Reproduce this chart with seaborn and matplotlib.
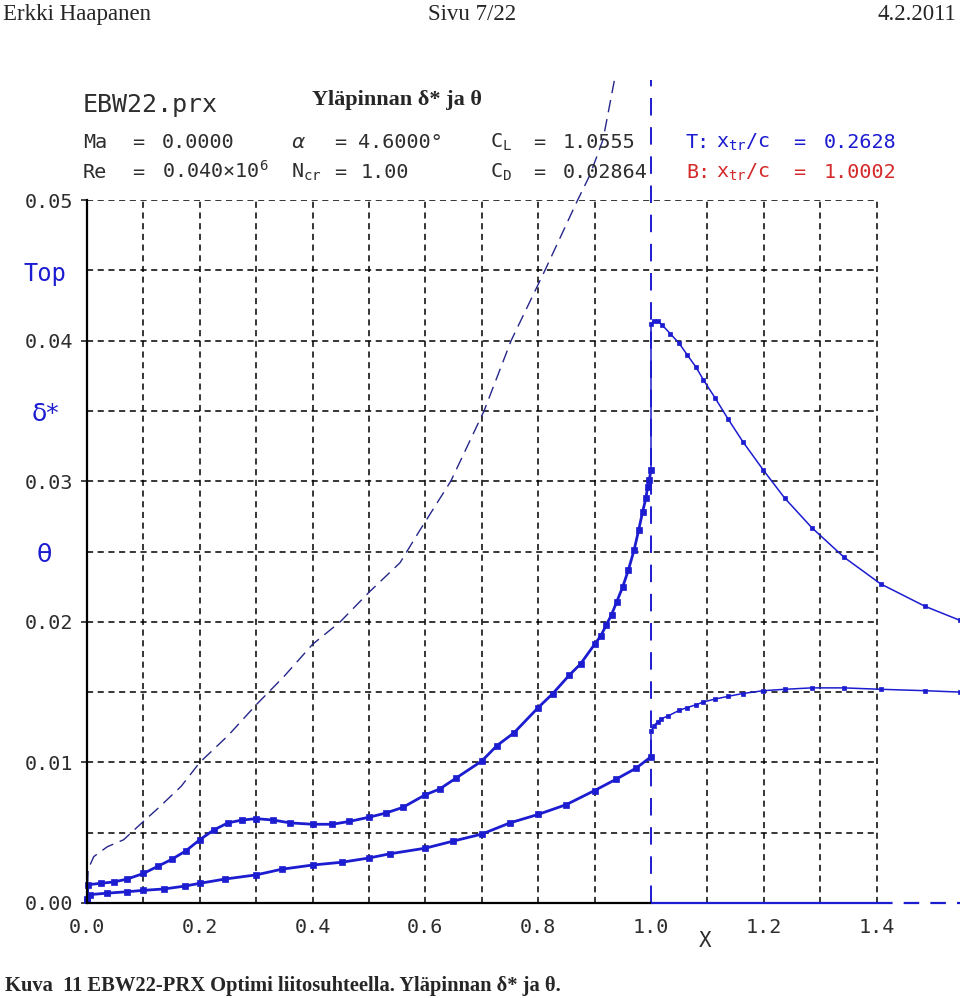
# Top surface boundary layer: delta* and theta (XFOIL style plot)

import matplotlib
matplotlib.use("Agg")
import matplotlib.pyplot as plt
import seaborn as sns
import pandas as pd


# upper surface displacement thickness delta*
dstar_x = [0.000, 0.002, 0.024, 0.048, 0.071, 0.100, 0.125, 0.150, 0.175, 0.200,
           0.225, 0.250, 0.275, 0.300, 0.330, 0.360, 0.400, 0.435, 0.465, 0.500,
           0.530, 0.560, 0.600, 0.625, 0.655, 0.700, 0.727, 0.757, 0.800, 0.826,
           0.855, 0.875, 0.900, 0.911, 0.921, 0.930, 0.939, 0.950, 0.960, 0.970,
           0.978, 0.985, 0.991, 0.994, 0.997, 1.000]
dstar_y = [0.0003, 0.0013, 0.0014, 0.0015, 0.0017, 0.0021, 0.0026, 0.0031, 0.0037, 0.0045,
           0.0052, 0.0057, 0.0059, 0.0060, 0.0059, 0.0057, 0.0056, 0.0056, 0.0058, 0.0061,
           0.0064, 0.0068, 0.0077, 0.0081, 0.0089, 0.0101, 0.0112, 0.0121, 0.0139, 0.0149,
           0.0162, 0.0170, 0.0184, 0.0190, 0.0198, 0.0205, 0.0214, 0.0225, 0.0237, 0.0251,
           0.0265, 0.0278, 0.0288, 0.0296, 0.0301, 0.0308]

# upper surface momentum thickness theta
theta_x = [0.000, 0.006, 0.036, 0.071, 0.100, 0.137, 0.173, 0.200, 0.244, 0.300,
           0.345, 0.400, 0.452, 0.500, 0.537, 0.600, 0.649, 0.700, 0.750, 0.800,
           0.850, 0.900, 0.938, 0.974, 1.000]
theta_y = [0.0002, 0.0006, 0.0007, 0.0008, 0.0009, 0.0010, 0.0012, 0.0014, 0.0017, 0.0020,
           0.0024, 0.0027, 0.0029, 0.0032, 0.0035, 0.0039, 0.0044, 0.0049, 0.0057, 0.0063,
           0.0070, 0.0080, 0.0088, 0.0096, 0.0104]

# wake (starts from the trailing edge value)
wake_dstar_x = [1.000, 1.000, 1.005, 1.012, 1.020, 1.034, 1.050, 1.064, 1.080, 1.093,
                1.114, 1.137, 1.163, 1.199, 1.237, 1.285, 1.342, 1.407, 1.486, 1.548]
wake_dstar_y = [0.0308, 0.0412, 0.0414, 0.0414, 0.0411, 0.0405, 0.0398, 0.0390, 0.0381, 0.0372,
                0.0359, 0.0344, 0.0328, 0.0308, 0.0288, 0.0267, 0.0246, 0.0227, 0.0211, 0.0201]
wake_theta_x = [1.000, 1.000, 1.005, 1.012, 1.018, 1.030, 1.050, 1.064, 1.080, 1.093,
                1.113, 1.137, 1.163, 1.199, 1.237, 1.285, 1.342, 1.407, 1.486, 1.548]
wake_theta_y = [0.0104, 0.0122, 0.0126, 0.0129, 0.0131, 0.0133, 0.0137, 0.0139, 0.0141, 0.0143,
                0.0145, 0.0147, 0.0149, 0.0151, 0.0152, 0.0153, 0.0153, 0.0152, 0.0151, 0.0150]

# thin dashed reference curve
ref_x = [0.000, 0.002, 0.012, 0.036, 0.065, 0.100, 0.125, 0.167, 0.200, 0.250,
         0.300, 0.349, 0.400, 0.449, 0.500, 0.555, 0.590, 0.645, 0.704, 0.752,
         0.812, 0.870, 0.892, 0.915, 0.935]
ref_y = [0.0000, 0.0024, 0.0033, 0.0040, 0.0045, 0.0058, 0.0067, 0.0083, 0.0100, 0.0119,
         0.0141, 0.0161, 0.0184, 0.0200, 0.0221, 0.0242, 0.0265, 0.0300, 0.0350, 0.0400,
         0.0450, 0.0500, 0.0518, 0.0543, 0.0585]

x_ticks = [0.0, 0.2, 0.4, 0.6, 0.8, 1.0, 1.2, 1.4]
x_labels = ["0.0", "0.2", "0.4", "0.6", "0.8", "1.0", "1.2", "1.4"]
y_ticks = [0.0, 0.01, 0.02, 0.03, 0.04, 0.05]
y_labels = ["0.00", "0.01", "0.02", "0.03", "0.04", "0.05"]
grid_x = [0.1, 0.2, 0.3, 0.4, 0.5, 0.6, 0.7, 0.8, 0.9, 1.1, 1.2, 1.3, 1.4]
grid_y = [0.005, 0.01, 0.015, 0.02, 0.025, 0.03, 0.035, 0.04, 0.045, 0.05]
te_x = 1.0
te_top = 0.0585
grid_end = 1.4

BLUE = "#1c1cd0"
NAVY = "#26268a"
TEXT = "#2e2e2e"
RED = "#d42a2a"
W, H = 960, 998

sns.set_style("white")
plt.rcParams['font.family'] = ['DejaVu Sans Mono', 'DejaVu Sans']

fig = plt.figure(figsize=(W / 100, H / 100), dpi=100)
ax = fig.add_axes([87 / W, 95 / H, 873 / W, 703 / H])
ax.set_xlim(0, 873 / 564)
ax.set_ylim(0, 0.05)

# dashed grid
ax.vlines(grid_x, 0, 0.05, colors="black", linestyles=(0, (4, 3)), linewidth=1.1, zorder=1)
ax.hlines(grid_y, 0, grid_end, colors="black", linestyles=(0, (4, 3)), linewidth=1.1, zorder=1)

# axes lines
for s in ["top", "right"]:
    ax.spines[s].set_visible(False)
ax.spines["left"].set_bounds(0, 0.05)
ax.spines["bottom"].set_bounds(0, te_x)
for s in ["left", "bottom"]:
    ax.spines[s].set_color("black")
    ax.spines[s].set_linewidth(1.6)
ax.hlines(0, te_x, grid_end, colors=BLUE, linewidth=1.6, clip_on=False, zorder=3)
ax.hlines(0, grid_end, 873 / 564, colors=BLUE, linestyles=(0, (7, 5)), linewidth=1.6,
          clip_on=False, zorder=3)

# trailing edge marker
ax.vlines(te_x, 0, te_top, colors=BLUE, linestyles=(0, (9, 6)), linewidth=1.4,
          clip_on=False, zorder=2)

line_kw = dict(color=BLUE, marker="s", markersize=4, markeredgecolor=BLUE,
               markeredgewidth=0.5, linewidth=2.0, estimator=None, sort=False,
               clip_on=False, ax=ax, legend=False)
sns.lineplot(data=pd.DataFrame({"x": dstar_x, "y": dstar_y}), x="x", y="y", **line_kw)
sns.lineplot(data=pd.DataFrame({"x": theta_x, "y": theta_y}), x="x", y="y", **line_kw)
wake_kw = dict(line_kw, linewidth=1.1, markersize=3.5)
sns.lineplot(data=pd.DataFrame({"x": wake_dstar_x, "y": wake_dstar_y}), x="x", y="y", **wake_kw)
sns.lineplot(data=pd.DataFrame({"x": wake_theta_x, "y": wake_theta_y}), x="x", y="y", **wake_kw)
sns.lineplot(data=pd.DataFrame({"x": ref_x, "y": ref_y}), x="x", y="y", color=NAVY,
             linewidth=1.0, linestyle=(0, (9, 5)), estimator=None, sort=False,
             clip_on=False, ax=ax, legend=False)

ax.set_xlabel("")
ax.set_ylabel("")
ax.set_xticks(x_ticks)
ax.set_xticklabels(x_labels)
ax.set_yticks(y_ticks)
ax.set_yticklabels(y_labels)
ax.tick_params(axis="x", length=0, pad=11, labelsize=14.5, labelcolor=TEXT)
ax.tick_params(axis="y", length=4, width=1.2, direction="out", pad=6, labelsize=14.5,
               labelcolor=TEXT, left=True)


def txt(px, py, s, **kw):
    fig.text(px / W, 1 - py / H, s, **kw)


# page header and caption
serif = "Liberation Serif"
txt(3, 20, "Erkki Haapanen", family=serif, fontsize=16.5)
txt(472, 20, "Sivu 7/22", family=serif, fontsize=16.5, ha="center")
txt(956, 20, "4.2.2011", family=serif, fontsize=16.5, ha="right")
txt(5, 991, "Kuva  11 EBW22-PRX Optimi liitosuhteella. Yläpinnan δ* ja θ.",
    family=serif, fontsize=14.8, fontweight="bold")

# plot header
txt(83, 112, "EBW22.prx", fontsize=18, color=TEXT)
txt(312, 105, "Yläpinnan δ* ja θ", family=serif, fontsize=16, fontweight="bold")

row2, row3 = 148, 178
fs = 14.5
txt(83, row2, "Ma", fontsize=fs, color=TEXT)
txt(132, row2, "=", fontsize=fs, color=TEXT)
txt(162, row2, "0.0000", fontsize=fs, color=TEXT)
txt(291, row2, "α", fontsize=fs, color=TEXT, family="DejaVu Sans", style="italic")
txt(334, row2, "=", fontsize=fs, color=TEXT)
txt(358, row2, "4.6000°", fontsize=fs, color=TEXT)
txt(490, row2, r"$\mathregular{C_L}$", fontsize=fs, color=TEXT)
txt(533, row2, "=", fontsize=fs, color=TEXT)
txt(563, row2, "1.0555", fontsize=fs, color=TEXT)
txt(686, row2, "T:", fontsize=fs, color=BLUE)
txt(716, row2, r"$\mathregular{x_{tr}/c}$", fontsize=fs, color=BLUE)
txt(793, row2, "=", fontsize=fs, color=BLUE)
txt(824, row2, "0.2628", fontsize=fs, color=BLUE)

txt(83, row3, "Re", fontsize=fs, color=TEXT)
txt(132, row3, "=", fontsize=fs, color=TEXT)
txt(162, row3, r"0.040×10$\mathregular{^6}$", fontsize=fs, color=TEXT)
txt(291, row3, r"$\mathregular{N_{cr}}$", fontsize=fs, color=TEXT)
txt(334, row3, "=", fontsize=fs, color=TEXT)
txt(361, row3, "1.00", fontsize=fs, color=TEXT)
txt(490, row3, r"$\mathregular{C_D}$", fontsize=fs, color=TEXT)
txt(533, row3, "=", fontsize=fs, color=TEXT)
txt(563, row3, "0.02864", fontsize=fs, color=TEXT)
txt(686, row3, "B:", fontsize=fs, color=RED)
txt(716, row3, r"$\mathregular{x_{tr}/c}$", fontsize=fs, color=RED)
txt(793, row3, "=", fontsize=fs, color=RED)
txt(824, row3, "1.0002", fontsize=fs, color=RED)

# side labels
txt(24, 281, "Top", fontsize=17, color=BLUE)
txt(32, 421, "δ*", fontsize=18, color=BLUE, family="DejaVu Sans")
txt(37, 562, "θ", fontsize=18, color=BLUE, family="DejaVu Sans")
txt(705, 941, "X", fontsize=15, color=TEXT, ha="center", va="center")

fig.savefig("out.png", dpi=100)
